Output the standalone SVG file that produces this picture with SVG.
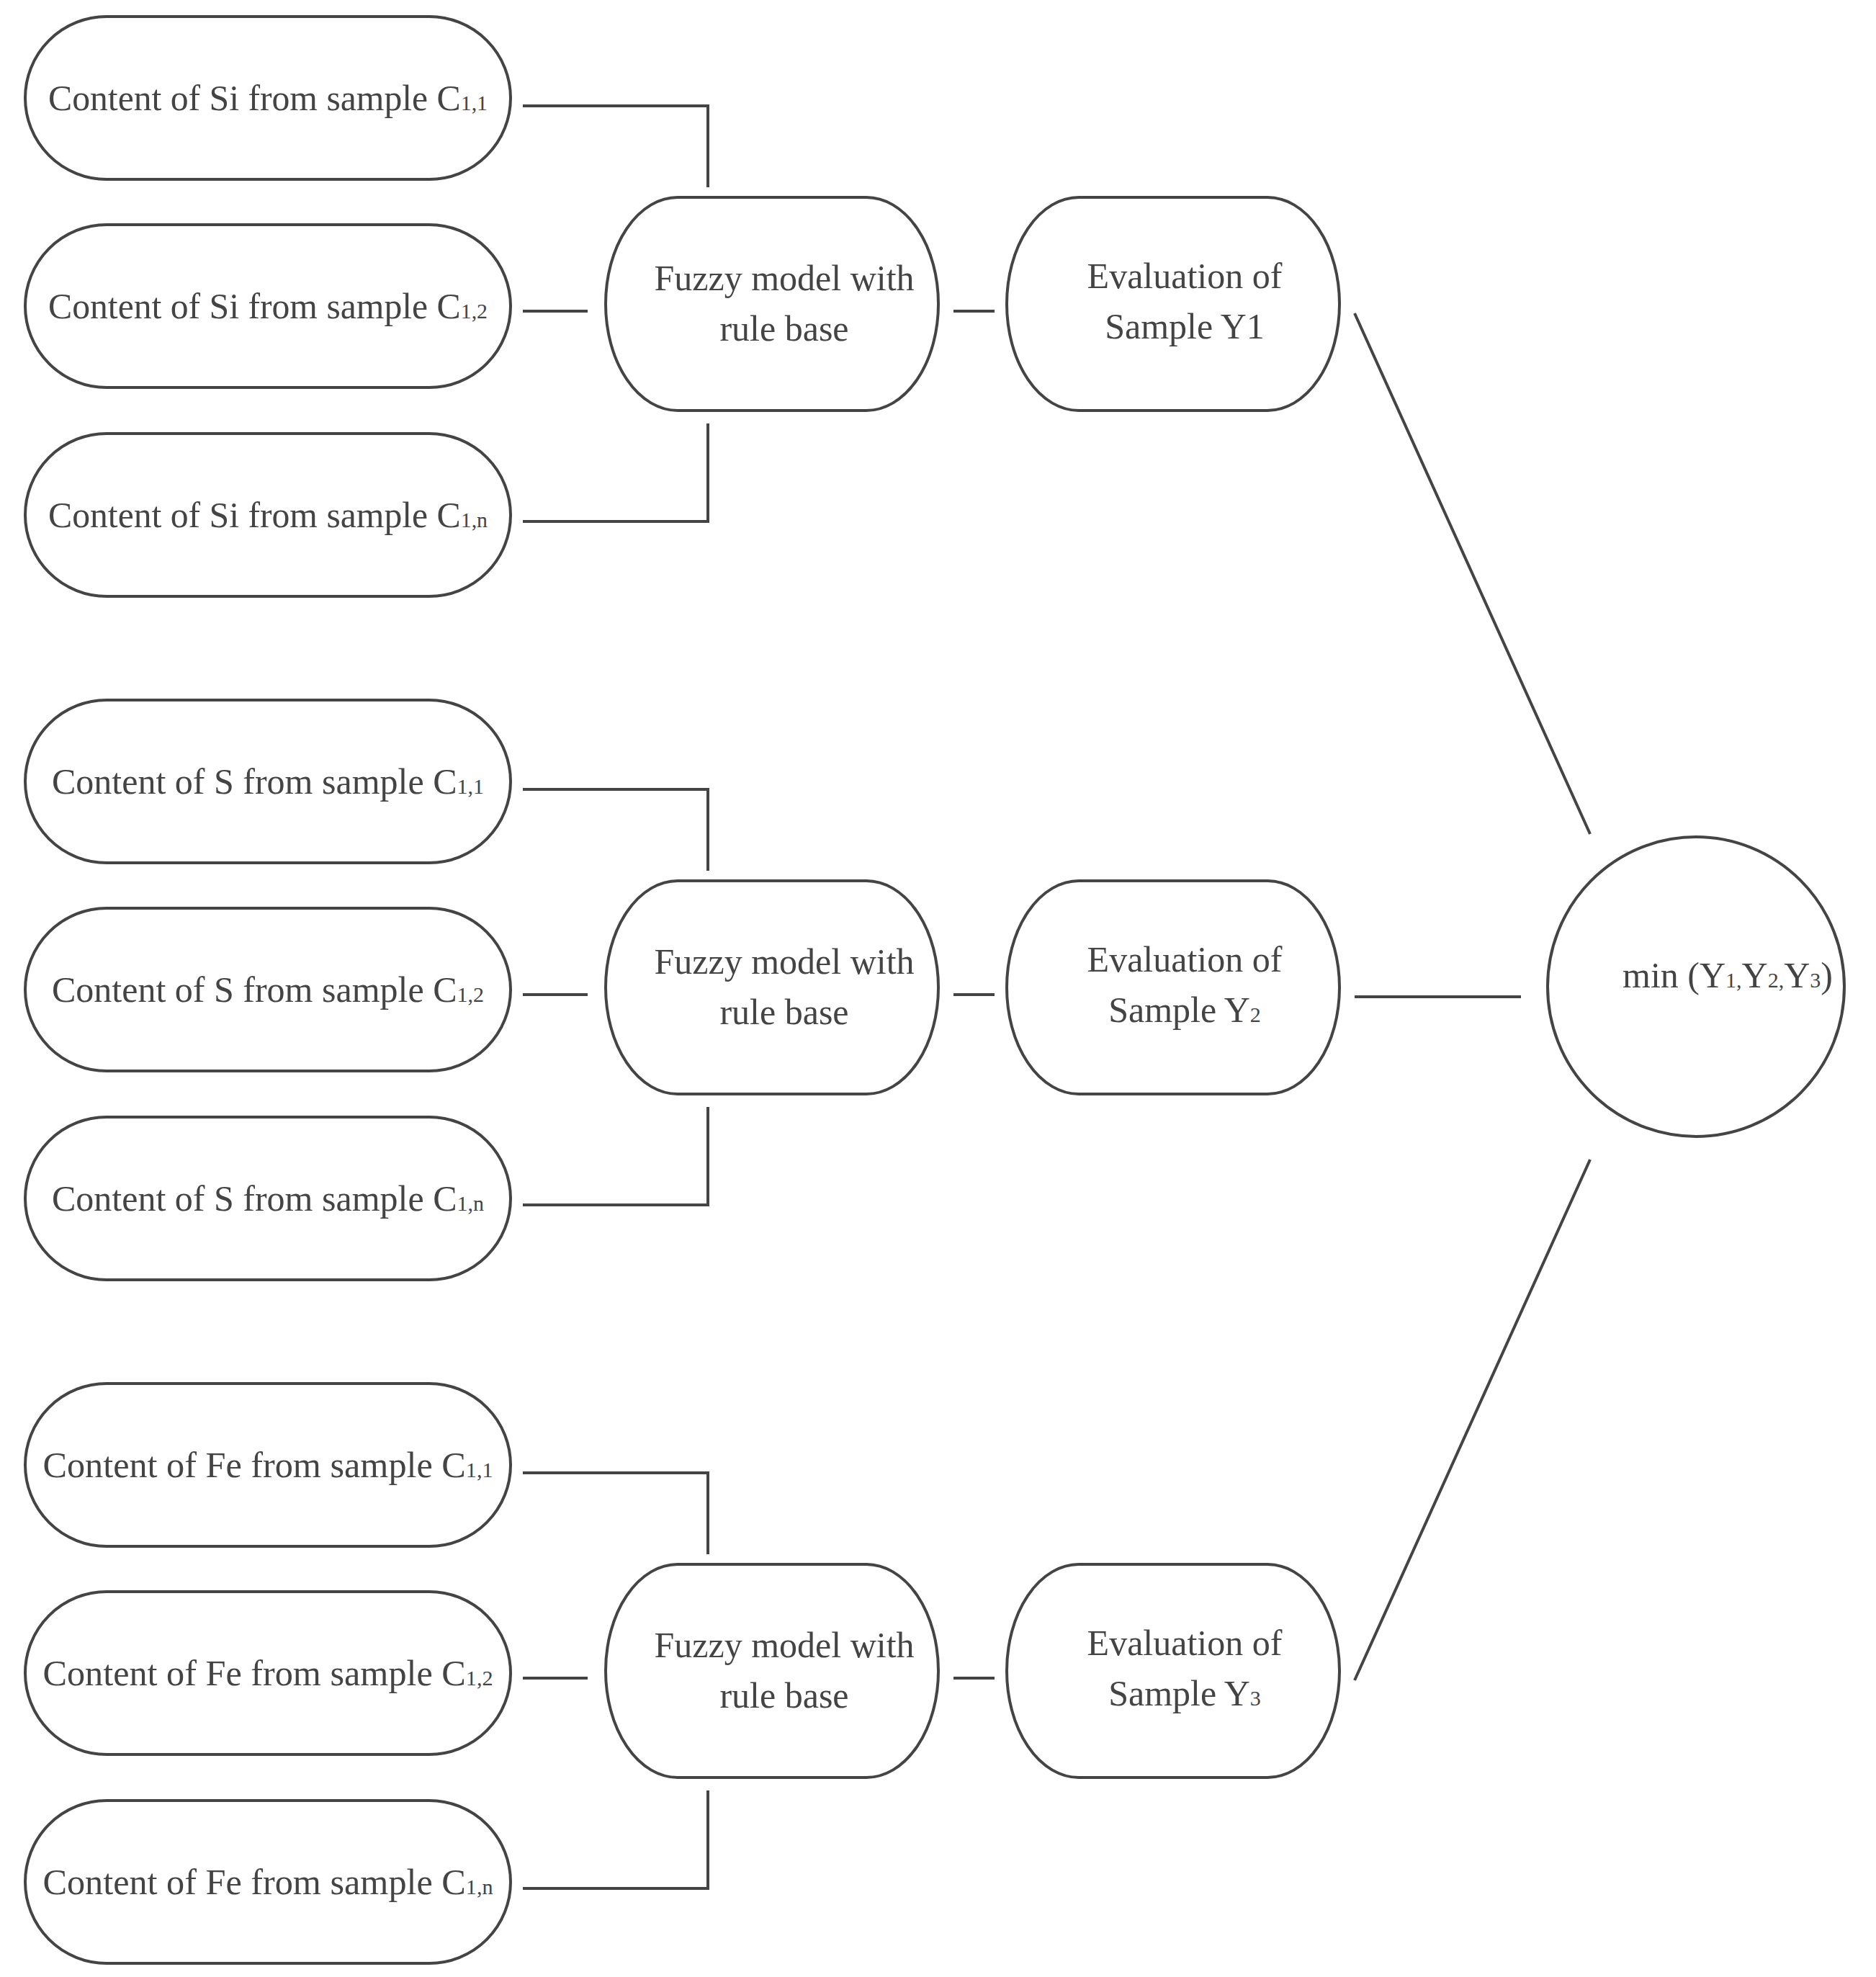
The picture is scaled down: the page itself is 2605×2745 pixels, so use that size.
<svg xmlns="http://www.w3.org/2000/svg" width="2605" height="2745" viewBox="0 0 2605 2745">
<style>
.n{fill:#fff;stroke:#444;stroke-width:4}
.c{fill:none;stroke:#444;stroke-width:4}
text{font-family:"Liberation Serif",serif;font-size:50px;fill:#444;text-anchor:middle}
.s{font-size:30px}
</style>
<defs>
<rect id="inp" x="35" y="0" width="674" height="226" rx="113" ry="113" class="n"/>
<path id="mid" d="M100,0 H362 A100 148 0 0 1 362,296 H100 A100 148 0 0 1 100,0 Z" class="n"/>
</defs>
<rect width="2605" height="2745" fill="#fff"/>
<g id="si1"><use href="#inp" y="23"/><text x="372" y="153" textLength="610" lengthAdjust="spacingAndGlyphs">Content of Si from sample C<tspan class="s">1,1</tspan></text></g>
<g id="si2"><use href="#inp" y="312"/><text x="372" y="442" textLength="610" lengthAdjust="spacingAndGlyphs">Content of Si from sample C<tspan class="s">1,2</tspan></text></g>
<g id="si3"><use href="#inp" y="602"/><text x="372" y="732" textLength="610" lengthAdjust="spacingAndGlyphs">Content of Si from sample C<tspan class="s">1,n</tspan></text></g>
<g id="s1"><use href="#inp" y="972"/><text x="372" y="1102" textLength="600" lengthAdjust="spacingAndGlyphs">Content of S from sample C<tspan class="s">1,1</tspan></text></g>
<g id="s2"><use href="#inp" y="1261"/><text x="372" y="1391" textLength="600" lengthAdjust="spacingAndGlyphs">Content of S from sample C<tspan class="s">1,2</tspan></text></g>
<g id="s3"><use href="#inp" y="1551"/><text x="372" y="1681" textLength="600" lengthAdjust="spacingAndGlyphs">Content of S from sample C<tspan class="s">1,n</tspan></text></g>
<g id="fe1"><use href="#inp" y="1921"/><text x="372" y="2051" textLength="625" lengthAdjust="spacingAndGlyphs">Content of Fe from sample C<tspan class="s">1,1</tspan></text></g>
<g id="fe2"><use href="#inp" y="2210"/><text x="372" y="2340" textLength="625" lengthAdjust="spacingAndGlyphs">Content of Fe from sample C<tspan class="s">1,2</tspan></text></g>
<g id="fe3"><use href="#inp" y="2500"/><text x="372" y="2630" textLength="625" lengthAdjust="spacingAndGlyphs">Content of Fe from sample C<tspan class="s">1,n</tspan></text></g>
<g id="fz1"><use href="#mid" x="841" y="274"/><text x="1089" y="403">Fuzzy model with</text><text x="1089" y="473">rule base</text></g>
<g id="fz2"><use href="#mid" x="841" y="1223"/><text x="1089" y="1352">Fuzzy model with</text><text x="1089" y="1422">rule base</text></g>
<g id="fz3"><use href="#mid" x="841" y="2172"/><text x="1089" y="2301">Fuzzy model with</text><text x="1089" y="2371">rule base</text></g>
<g id="ev1"><use href="#mid" x="1398" y="274"/><text x="1645" y="400">Evaluation of</text><text x="1645" y="470">Sample Y1</text></g>
<g id="ev2"><use href="#mid" x="1398" y="1223"/><text x="1645" y="1349">Evaluation of</text><text x="1645" y="1419">Sample Y<tspan class="s">2</tspan></text></g>
<g id="ev3"><use href="#mid" x="1398" y="2172"/><text x="1645" y="2298">Evaluation of</text><text x="1645" y="2368">Sample Y<tspan class="s">3</tspan></text></g>
<g id="min"><ellipse cx="2355" cy="1370" rx="206" ry="208" class="n"/><text x="2399" y="1371">min (Y<tspan class="s">1,</tspan>Y<tspan class="s">2,</tspan>Y<tspan class="s">3</tspan>)</text></g>
<g id="connectors" class="c">
<path d="M726,147 H983 V260 M726,432 H816 M726,724 H983 V588 M1324,432 H1381"/>
<path d="M726,1096 H983 V1209 M726,1381 H816 M726,1673 H983 V1537 M1324,1381 H1381"/>
<path d="M726,2045 H983 V2158 M726,2330 H816 M726,2622 H983 V2486 M1324,2330 H1381"/>
<path d="M1881,435 L2208,1158 M1881,1384 H2112 M1881,2333 L2208,1610"/>
</g>
</svg>
